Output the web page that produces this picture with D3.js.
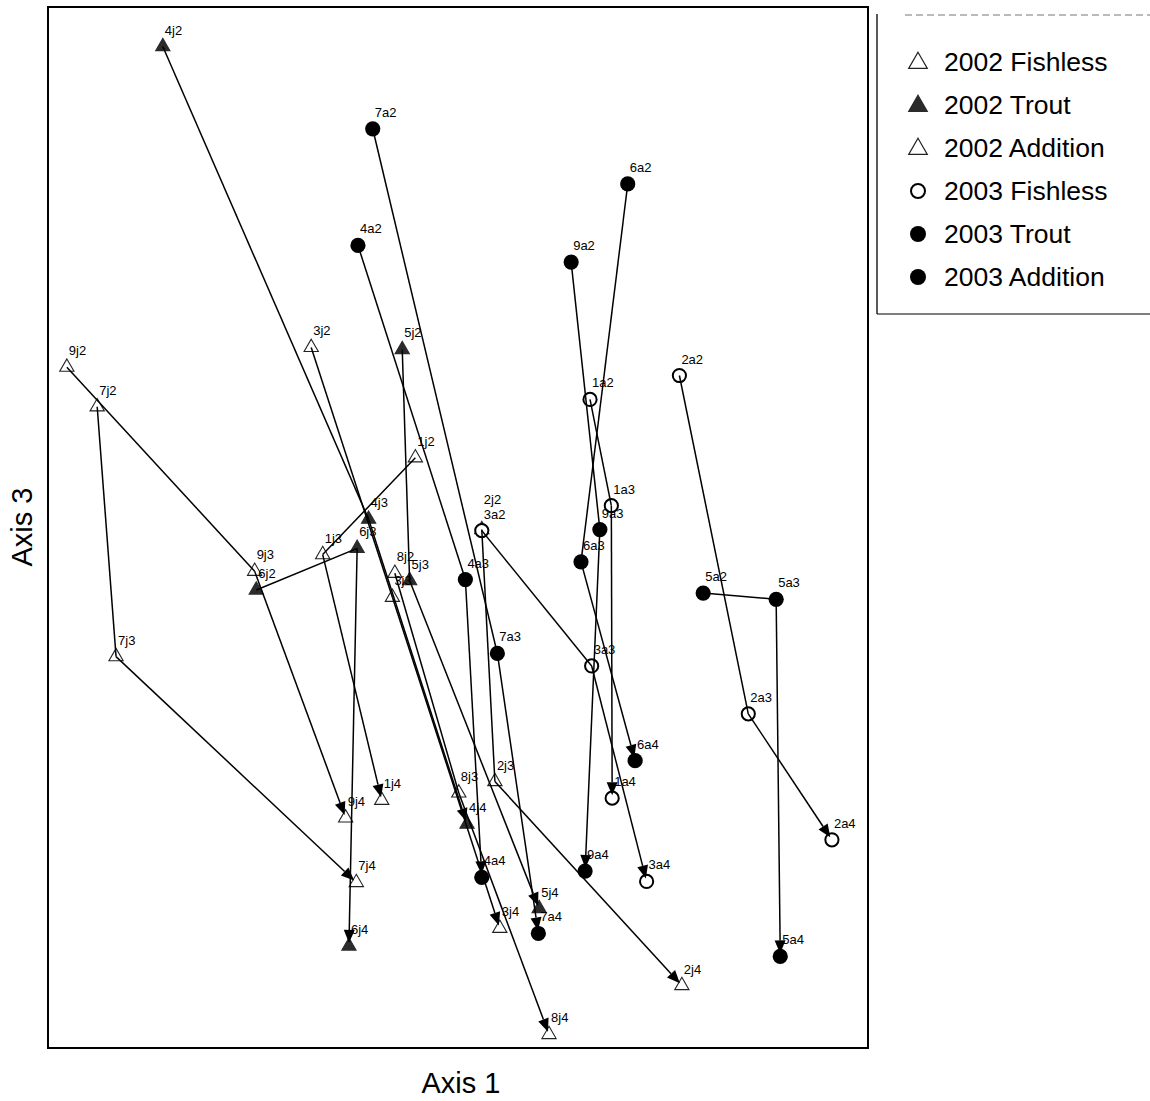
<!DOCTYPE html>
<html>
<head>
<meta charset="utf-8">
<script src="https://cdn.jsdelivr.net/npm/d3@7"></script>
<style>
  body { margin: 0; background: #fff; }
  text { font-family: "Liberation Sans", Arial, Helvetica, sans-serif; fill: #000; }
</style>
</head>
<body>
<svg id="chart" width="1150" height="1101"></svg>
<script>
// Ordination scores (Axis 1 / Axis 3) for each pond, sampled at three dates.
// 2002 samples ("j") — ponds 1–9
const jSites = ["1", "2", "3", "4", "5", "6", "7", "8", "9"];
const jTreatment = ["Fishless", "Fishless", "Fishless", "Trout", "Trout", "Trout", "Addition", "Addition", "Addition"];
const j2x = [44.8, 52.9, 32.1, 14.0, 43.2, 25.4, 6.0, 42.3, 2.3];
const j2y = [56.7, 49.8, 67.3, 96.2, 67.1, 44.0, 61.6, 45.6, 65.4];
const j3x = [33.5, 54.5, 42.0, 39.1, 44.1, 37.7, 8.3, 50.1, 25.2];
const j3y = [47.4, 25.6, 43.3, 50.8, 44.9, 48.0, 37.6, 24.5, 45.8];
const j4x = [40.7, 77.3, 55.1, 51.1, 59.9, 36.7, 37.6, 61.1, 36.3];
const j4y = [23.8, 6.0, 11.5, 21.5, 13.4, 9.8, 15.9, 1.3, 22.1];

// 2003 samples ("a") — pond 8 not sampled
const aSites = ["1", "2", "3", "4", "5", "6", "7", "9"];
const aTreatment = ["Fishless", "Fishless", "Fishless", "Trout", "Trout", "Trout", "Addition", "Addition"];
const a2x = [66.1, 77.0, 52.9, 37.8, 79.9, 70.7, 39.6, 63.8];
const a2y = [62.3, 64.6, 49.7, 77.1, 43.7, 83.0, 88.3, 75.5];
const a3x = [68.7, 85.4, 66.3, 50.9, 88.8, 65.0, 54.8, 67.3];
const a3y = [52.1, 32.1, 36.7, 45.0, 43.1, 46.7, 37.9, 49.8];
const a4x = [68.8, 95.6, 73.0, 52.9, 89.3, 71.6, 59.8, 65.5];
const a4y = [24.0, 20.0, 16.0, 16.4, 8.8, 27.6, 11.0, 17.0];

// Legend
const legendLabels = ["2002 Fishless", "2002 Trout", "2002 Addition", "2003 Fishless", "2003 Trout", "2003 Addition"];
const legendShapes = ["triangle", "triangle", "triangle", "circle", "circle", "circle"];
const legendFilled = [false, true, false, false, true, true];

const svg = d3.select("#chart");
const plot = { left: 48, right: 868, top: 7, bottom: 1048 };

const x = d3.scaleLinear().domain([0, 100]).range([plot.left, plot.right]);
const y = d3.scaleLinear().domain([0, 100]).range([plot.bottom, plot.top]);

// Frame
svg.append("rect")
  .attr("x", plot.left).attr("y", plot.top)
  .attr("width", plot.right - plot.left).attr("height", plot.bottom - plot.top)
  .attr("fill", "none").attr("stroke", "#000").attr("stroke-width", 2);

// Build trajectories
function buildTracks(ids, treat, year, xs, ys) {
  return ids.map((id, i) => ({
    id, treat: treat[i], year,
    pts: [2, 3, 4].map((t, k) => ({
      label: id + year + t,
      x: xs[k][i], y: ys[k][i]
    }))
  }));
}
const tracks = [
  ...buildTracks(jSites, jTreatment, "j", [j2x, j3x, j4x], [j2y, j3y, j4y]),
  ...buildTracks(aSites, aTreatment, "a", [a2x, a3x, a4x], [a2y, a3y, a4y])
];

function isFilled(t) {
  if (t.year === "j") return t.treat === "Trout";
  return t.treat !== "Fishless";
}

const triSym = d3.symbol().type(d3.symbolTriangle).size(88);
const gSym = svg.append("g");
const gLine = svg.append("g");
const gLab = svg.append("g");

// Symbols
tracks.forEach(t => {
  const filled = isFilled(t);
  t.pts.forEach(p => {
    const px = x(p.x), py = y(p.y);
    if (t.year === "j") {
      gSym.append("path")
        .attr("d", triSym())
        .attr("transform", `translate(${px},${py})`)
        .attr("fill", filled ? "#2b2b2b" : "#fff")
        .attr("stroke", filled ? "#2b2b2b" : "#222")
        .attr("stroke-width", 1.1);
    } else {
      gSym.append("circle")
        .attr("cx", px).attr("cy", py)
        .attr("r", filled ? 7.6 : 6.6)
        .attr("fill", filled ? "#000" : "#fff")
        .attr("stroke", "#000")
        .attr("stroke-width", filled ? 0 : 2);
    }
  });
});

// Trajectory lines with arrowhead on the final step
tracks.forEach(t => {
  const P = t.pts.map(p => [x(p.x), y(p.y)]);
  gLine.append("line")
    .attr("x1", P[0][0]).attr("y1", P[0][1])
    .attr("x2", P[1][0]).attr("y2", P[1][1])
    .attr("stroke", "#000").attr("stroke-width", 1.5);
  const dx = P[2][0] - P[1][0], dy = P[2][1] - P[1][1];
  const len = Math.hypot(dx, dy), ux = dx / len, uy = dy / len;
  const tip = [P[2][0] - ux * 3, P[2][1] - uy * 3];
  const base = [tip[0] - ux * 13, tip[1] - uy * 13];
  gLine.append("line")
    .attr("x1", P[1][0]).attr("y1", P[1][1])
    .attr("x2", base[0]).attr("y2", base[1])
    .attr("stroke", "#000").attr("stroke-width", 1.5);
  const hw = 5.5;
  gLine.append("path")
    .attr("d", `M${tip[0]},${tip[1]}L${base[0] - uy * hw},${base[1] + ux * hw}L${base[0] + uy * hw},${base[1] - ux * hw}Z`)
    .attr("fill", "#000");
});

// Point labels (2j2 sits on top of 3a2, so its label is lifted a little)
const labelLift = { "2j2": 14 };
tracks.forEach(t => {
  t.pts.forEach(p => {
    gLab.append("text")
      .attr("x", x(p.x) + 2).attr("y", y(p.y) - 12 - (labelLift[p.label] || 0))
      .attr("font-size", 13)
      .text(p.label);
  });
});

// Axis titles
svg.append("text")
  .attr("x", (plot.left + plot.right) / 2 + 3).attr("y", 1093)
  .attr("text-anchor", "middle").attr("font-size", 29)
  .text("Axis 1");
svg.append("text")
  .attr("transform", "translate(32,527) rotate(-90)")
  .attr("text-anchor", "middle").attr("font-size", 29)
  .text("Axis 3");

// Legend box
const lg = svg.append("g");
lg.append("line").attr("x1", 877).attr("x2", 877).attr("y1", 14).attr("y2", 314)
  .attr("stroke", "#000").attr("stroke-width", 1.3);
lg.append("line").attr("x1", 877).attr("x2", 1150).attr("y1", 314).attr("y2", 314)
  .attr("stroke", "#000").attr("stroke-width", 1.2);
lg.append("line").attr("x1", 905).attr("x2", 1150).attr("y1", 15).attr("y2", 15)
  .attr("stroke", "#777").attr("stroke-width", 1).attr("stroke-dasharray", "7,4");

const legTri = d3.symbol().type(d3.symbolTriangle).size(150);
legendLabels.forEach((lab, i) => {
  const cy = 62 + i * 43;
  if (legendShapes[i] === "triangle") {
    lg.append("path").attr("d", legTri())
      .attr("transform", `translate(918,${cy + 1})`)
      .attr("fill", legendFilled[i] ? "#2b2b2b" : "#fff")
      .attr("stroke", legendFilled[i] ? "#2b2b2b" : "#222")
      .attr("stroke-width", 1.2);
  } else {
    lg.append("circle").attr("cx", 918).attr("cy", cy).attr("r", legendFilled[i] ? 8 : 7)
      .attr("fill", legendFilled[i] ? "#000" : "#fff")
      .attr("stroke", "#000").attr("stroke-width", legendFilled[i] ? 0 : 2);
  }
  lg.append("text").attr("x", 944).attr("y", cy + 9)
    .attr("font-size", 26.5).text(lab);
});
</script>
</body>
</html>
